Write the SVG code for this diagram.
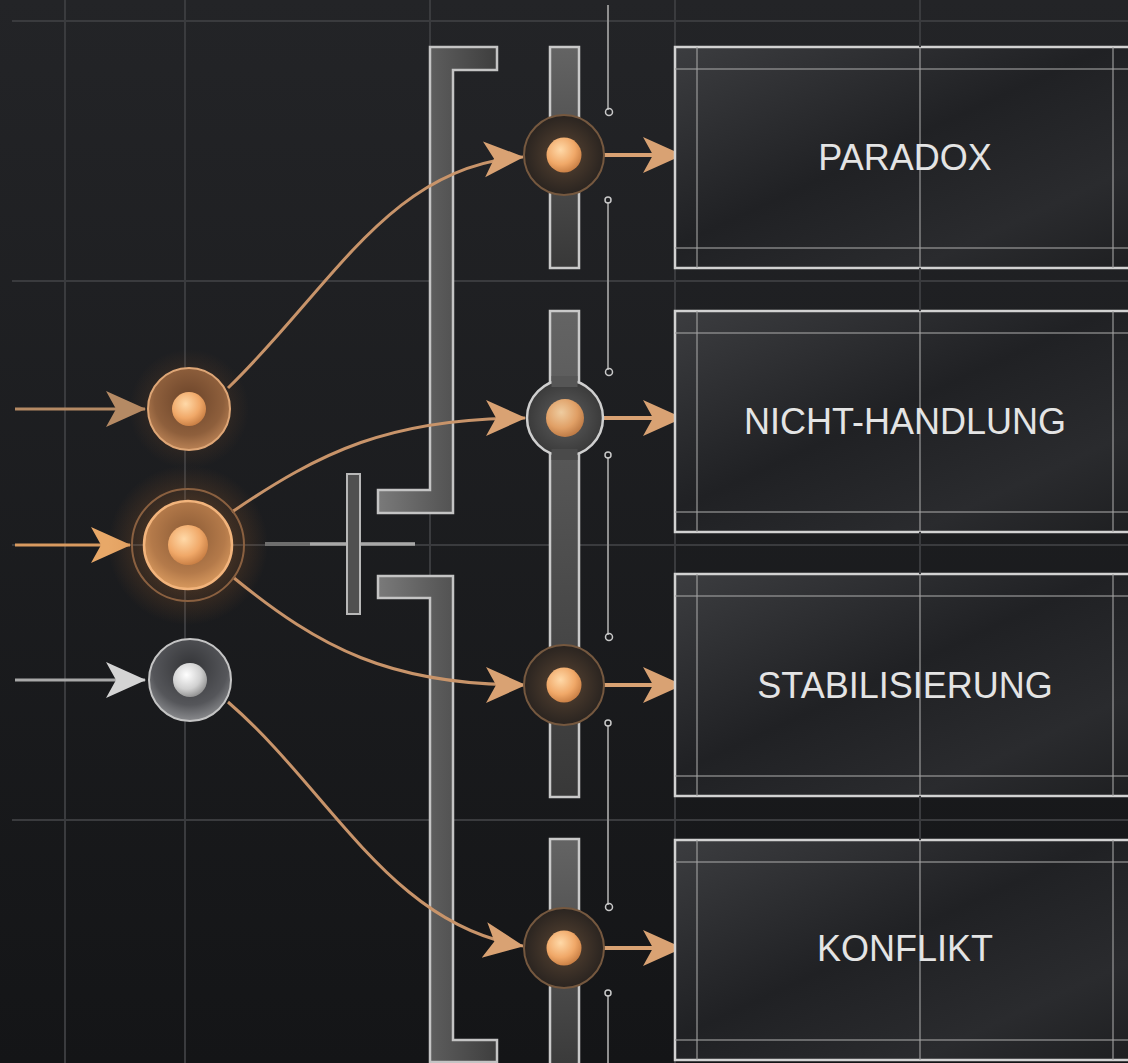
<svg xmlns="http://www.w3.org/2000/svg" width="1128" height="1063" viewBox="0 0 1128 1063">
<defs>
<style>
.grid{stroke:#3a3b3e;stroke-width:2;fill:none}
.bracket{fill:url(#gBracket);stroke:#c4c4c4;stroke-width:2.5}
.rail{fill:url(#gRail);stroke:#c9c9c9;stroke-width:2.5}
.conn{fill:none;stroke:#c8946a;stroke-width:3}
.out{fill:none;stroke:#d9a273;stroke-width:4}
.tick{stroke:#8f8f8f;stroke-width:2;fill:none}
.orn{fill:none;stroke:#c8c8c8;stroke-width:1.5}
.box{fill:url(#gBox);stroke:#d2d2d2;stroke-width:2.5}
.inner{stroke:#a0a0a0;stroke-width:1.5;opacity:0.75;fill:none}
.label{font-family:"Liberation Sans",Arial,sans-serif;font-size:36px;fill:#e4e4e4;text-anchor:middle}
.mnode{fill:url(#gMid);stroke:#75583f;stroke-width:2}
.ball{fill:url(#gBall)}
</style>
<linearGradient id="gBg" x1="0" y1="0" x2="0" y2="1">
<stop offset="0" stop-color="#232427"/>
<stop offset="1" stop-color="#141517"/>
</linearGradient>
<linearGradient id="gBracket" x1="0" y1="0" x2="1" y2="0">
<stop offset="0" stop-color="#7a7a7a"/>
<stop offset="0.5" stop-color="#5a5a5a"/>
<stop offset="1" stop-color="#3e3e3e"/>
</linearGradient>
<linearGradient id="gRail" x1="0" y1="0" x2="0" y2="1">
<stop offset="0" stop-color="#646464"/>
<stop offset="1" stop-color="#383838"/>
</linearGradient>
<linearGradient id="gBox" x1="0" y1="0" x2="1" y2="1">
<stop offset="0" stop-color="#3c3d40"/>
<stop offset="0.45" stop-color="#202124"/>
<stop offset="0.75" stop-color="#2a2b2e"/>
<stop offset="1" stop-color="#1d1e20"/>
</linearGradient>
<radialGradient id="gBall" cx="0.4" cy="0.35" r="0.7">
<stop offset="0" stop-color="#ffd9a8"/>
<stop offset="0.6" stop-color="#f0a868"/>
<stop offset="1" stop-color="#c47a40"/>
</radialGradient>
<radialGradient id="gBallGrey" cx="0.4" cy="0.35" r="0.7">
<stop offset="0" stop-color="#ffffff"/>
<stop offset="0.6" stop-color="#d0d0d0"/>
<stop offset="1" stop-color="#8a8a8a"/>
</radialGradient>
<radialGradient id="gCopper" cx="0.5" cy="0.4" r="0.6">
<stop offset="0" stop-color="#6a4329"/>
<stop offset="0.7" stop-color="#8e5f3c"/>
<stop offset="1" stop-color="#b98154"/>
</radialGradient>
<radialGradient id="gCopperB" cx="0.5" cy="0.4" r="0.6">
<stop offset="0" stop-color="#8a5a35"/>
<stop offset="0.7" stop-color="#b47a4a"/>
<stop offset="1" stop-color="#d8995e"/>
</radialGradient>
<radialGradient id="gSteel" cx="0.5" cy="0.35" r="0.65">
<stop offset="0" stop-color="#333437"/>
<stop offset="0.7" stop-color="#55565a"/>
<stop offset="1" stop-color="#8a8b8e"/>
</radialGradient>
<radialGradient id="gMid" cx="0.5" cy="0.5" r="0.5">
<stop offset="0" stop-color="#5a4533"/>
<stop offset="1" stop-color="#2a2420"/>
</radialGradient>
<radialGradient id="gMidGrey" cx="0.5" cy="0.5" r="0.5">
<stop offset="0" stop-color="#5e5e5e"/>
<stop offset="1" stop-color="#3a3a3a"/>
</radialGradient>
<radialGradient id="gGlow" cx="0.5" cy="0.5" r="0.5">
<stop offset="0" stop-color="#e39a55" stop-opacity="0.55"/>
<stop offset="0.6" stop-color="#c07030" stop-opacity="0.2"/>
<stop offset="1" stop-color="#c07030" stop-opacity="0"/>
</radialGradient>
<marker id="mTan" viewBox="0 0 40 40" markerWidth="40" markerHeight="40" refX="39" refY="20" orient="auto" markerUnits="userSpaceOnUse">
<path d="M0,2 L40,20 L0,38 L10,20 Z" fill="#d9a273"/>
</marker>
<marker id="mTanDim" viewBox="0 0 40 40" markerWidth="40" markerHeight="40" refX="39" refY="20" orient="auto" markerUnits="userSpaceOnUse">
<path d="M0,2 L40,20 L0,38 L10,20 Z" fill="#b58a64"/>
</marker>
<marker id="mOrange" viewBox="0 0 40 40" markerWidth="40" markerHeight="40" refX="39" refY="20" orient="auto" markerUnits="userSpaceOnUse">
<path d="M0,2 L40,20 L0,38 L10,20 Z" fill="#e8a868"/>
</marker>
<marker id="mGrey" viewBox="0 0 40 40" markerWidth="40" markerHeight="40" refX="39" refY="20" orient="auto" markerUnits="userSpaceOnUse">
<path d="M0,2 L40,20 L0,38 L10,20 Z" fill="#d4d4d4"/>
</marker>
</defs>

<rect x="0" y="0" width="1128" height="1063" fill="url(#gBg)"/>

<g id="grid">
<line class="grid" x1="12" y1="21" x2="1128" y2="21"/>
<line class="grid" x1="12" y1="281" x2="1128" y2="281"/>
<line class="grid" x1="12" y1="545" x2="1128" y2="545"/>
<line class="grid" x1="12" y1="820" x2="1128" y2="820"/>
<line class="grid" x1="65" y1="0" x2="65" y2="1063"/>
<line class="grid" x1="185" y1="0" x2="185" y2="1063"/>
<line class="grid" x1="430" y1="0" x2="430" y2="1063"/>
<line class="grid" x1="675" y1="0" x2="675" y2="1063"/>
</g>

<g id="bracket-top">
<path class="bracket" d="M430,47 L497,47 L497,70 L453,70 L453,513 L378,513 L378,490 L430,490 Z"/>
</g>
<g id="bracket-bottom">
<path class="bracket" d="M378,576 L453,576 L453,1040 L497,1040 L497,1062 L430,1062 L430,598 L378,598 Z"/>
</g>

<g id="cross">
<line x1="265" y1="544" x2="415" y2="544" stroke="#6e6e6e" stroke-width="4"/>
<line x1="310" y1="544" x2="415" y2="544" stroke="#a8a8a8" stroke-width="3"/>
<rect x="347" y="474" width="13" height="140" fill="#505050" stroke="#b8b8b8" stroke-width="2"/>
</g>

<g id="ticks">
<line class="tick" x1="608" y1="5" x2="608" y2="110"/>
<line class="tick" x1="608" y1="202" x2="608" y2="370"/>
<line class="tick" x1="608" y1="457" x2="608" y2="635"/>
<line class="tick" x1="608" y1="725" x2="608" y2="905"/>
<line class="tick" x1="608" y1="995" x2="608" y2="1063"/>
<circle class="orn" cx="609" cy="112" r="3.5"/>
<circle class="orn" cx="608" cy="200" r="3"/>
<circle class="orn" cx="609" cy="372" r="3.5"/>
<circle class="orn" cx="608" cy="455" r="3"/>
<circle class="orn" cx="609" cy="637" r="3.5"/>
<circle class="orn" cx="608" cy="723" r="3"/>
<circle class="orn" cx="609" cy="907" r="3.5"/>
<circle class="orn" cx="608" cy="993" r="3"/>
</g>

<g id="rails">
<rect class="rail" x="550" y="47" width="29" height="221"/>
<rect class="rail" x="550" y="311" width="29" height="486"/>
<rect class="rail" x="550" y="839" width="29" height="240"/>
</g>

<g id="connectors">
<path class="conn" d="M228,388 C330,290 390,165 523,157" marker-end="url(#mTan)"/>
<path class="conn" d="M232,512 C320,452 390,418 525,418" marker-end="url(#mTan)"/>
<path class="conn" d="M234,578 C320,648 390,685 525,685" marker-end="url(#mTan)"/>
<path class="conn" d="M228,702 C330,790 390,925 523,946" marker-end="url(#mTan)"/>
<line x1="15" y1="409" x2="145" y2="409" stroke="#b58a64" stroke-width="3" marker-end="url(#mTanDim)"/>
<line x1="15" y1="545" x2="130" y2="545" stroke="#d89a60" stroke-width="3" marker-end="url(#mOrange)"/>
<line x1="15" y1="680" x2="145" y2="680" stroke="#a8a8a8" stroke-width="3" marker-end="url(#mGrey)"/>
<line class="out" x1="583" y1="155" x2="682" y2="155" marker-end="url(#mTan)"/>
<line class="out" x1="583" y1="418" x2="682" y2="418" marker-end="url(#mTan)"/>
<line class="out" x1="583" y1="685" x2="682" y2="685" marker-end="url(#mTan)"/>
<line class="out" x1="583" y1="948" x2="682" y2="948" marker-end="url(#mTan)"/>
</g>

<g id="hub-paradox">
<circle class="mnode" cx="564" cy="155" r="40"/>
<circle class="ball" cx="564" cy="155" r="17.5"/>
</g>
<g id="hub-nicht-handlung">
<circle cx="565" cy="418" r="38" fill="url(#gMidGrey)" stroke="#cfcfcf" stroke-width="2.5"/>
<rect x="551.5" y="376" width="26" height="11" fill="#565656"/>
<rect x="551.5" y="449" width="26" height="11" fill="#4a4a4a"/>
<circle cx="565" cy="418" r="19" fill="url(#gBall)" opacity="0.9"/>
</g>
<g id="hub-stabilisierung">
<circle class="mnode" cx="564" cy="685" r="40"/>
<circle class="ball" cx="564" cy="685" r="17.5"/>
</g>
<g id="hub-konflikt">
<circle class="mnode" cx="564" cy="948" r="40"/>
<circle class="ball" cx="564" cy="948" r="17.5"/>
</g>

<g id="source-a">
<circle cx="189" cy="409" r="60" fill="url(#gGlow)" opacity="0.6"/>
<circle cx="189" cy="409" r="41" fill="url(#gCopper)" stroke="#dea676" stroke-width="2"/>
<circle cx="189" cy="409" r="17" fill="url(#gBall)"/>
</g>
<g id="source-b">
<circle cx="188" cy="545" r="80" fill="url(#gGlow)"/>
<circle cx="188" cy="545" r="56" fill="none" stroke="#8a6040" stroke-width="2"/>
<circle cx="188" cy="545" r="44" fill="url(#gCopperB)" stroke="#f2b47c" stroke-width="2.5"/>
<circle cx="188" cy="545" r="20" fill="url(#gBall)"/>
</g>
<g id="source-c">
<circle cx="190" cy="680" r="41" fill="url(#gSteel)" stroke="#c4c4c4" stroke-width="2"/>
<circle cx="190" cy="680" r="17" fill="url(#gBallGrey)"/>
</g>

<g id="box-paradox">
<rect class="box" x="675" y="47" width="480" height="221"/>
<line class="inner" x1="675" y1="69" x2="1128" y2="69"/>
<line class="inner" x1="675" y1="248" x2="1128" y2="248"/>
<line class="inner" x1="697" y1="47" x2="697" y2="268"/>
<line class="inner" x1="1113" y1="47" x2="1113" y2="268"/>
<line class="inner" x1="920" y1="47" x2="920" y2="268" opacity="0.35"/>
<text class="label" x="905" y="170">PARADOX</text>
</g>
<g id="box-nicht-handlung">
<rect class="box" x="675" y="311" width="480" height="221"/>
<line class="inner" x1="675" y1="333" x2="1128" y2="333"/>
<line class="inner" x1="675" y1="512" x2="1128" y2="512"/>
<line class="inner" x1="697" y1="311" x2="697" y2="532"/>
<line class="inner" x1="1113" y1="311" x2="1113" y2="532"/>
<line class="inner" x1="920" y1="311" x2="920" y2="532" opacity="0.35"/>
<text class="label" x="905" y="434">NICHT-HANDLUNG</text>
</g>
<g id="box-stabilisierung">
<rect class="box" x="675" y="574" width="480" height="222"/>
<line class="inner" x1="675" y1="596" x2="1128" y2="596"/>
<line class="inner" x1="675" y1="776" x2="1128" y2="776"/>
<line class="inner" x1="697" y1="574" x2="697" y2="796"/>
<line class="inner" x1="1113" y1="574" x2="1113" y2="796"/>
<line class="inner" x1="920" y1="574" x2="920" y2="796" opacity="0.35"/>
<text class="label" x="905" y="698">STABILISIERUNG</text>
</g>
<g id="box-konflikt">
<rect class="box" x="675" y="840" width="480" height="220"/>
<line class="inner" x1="675" y1="862" x2="1128" y2="862"/>
<line class="inner" x1="675" y1="1040" x2="1128" y2="1040"/>
<line class="inner" x1="697" y1="840" x2="697" y2="1060"/>
<line class="inner" x1="1113" y1="840" x2="1113" y2="1060"/>
<line class="inner" x1="920" y1="840" x2="920" y2="1060" opacity="0.35"/>
<text class="label" x="905" y="961">KONFLIKT</text>
</g>
<line class="grid" x1="920" y1="0" x2="920" y2="47"/>
<line class="grid" x1="920" y1="268" x2="920" y2="311"/>
<line class="grid" x1="920" y1="532" x2="920" y2="574"/>
<line class="grid" x1="920" y1="796" x2="920" y2="840"/>
</svg>
